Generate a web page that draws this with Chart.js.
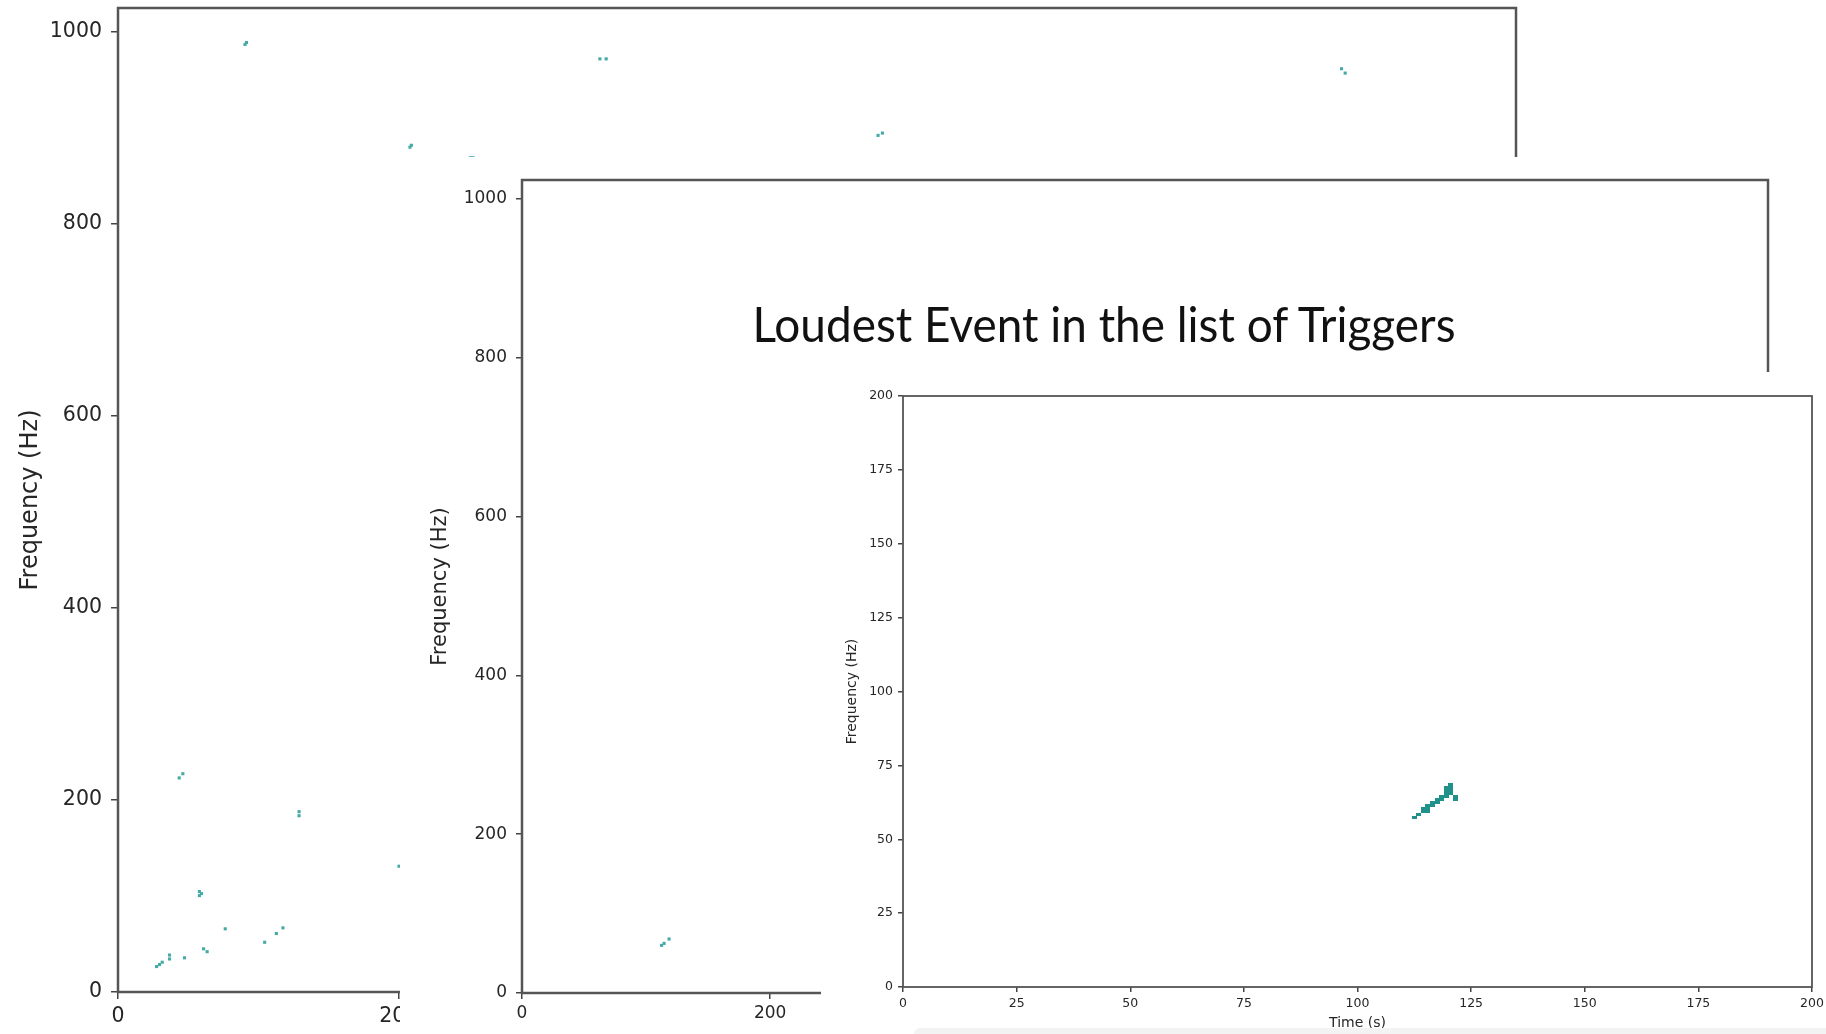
<!DOCTYPE html>
<html lang="en">
<head>
<meta charset="UTF-8">
<title>Loudest Event in the list of Triggers</title>
<script src="https://cdn.jsdelivr.net/npm/chart.js@4"></script>
<style>
  html, body { margin: 0; padding: 0; background: #fff; }
  body { width: 1826px; height: 1034px; position: relative; overflow: hidden; }
  .panel { position: absolute; background: #fff; }
  .panel canvas { display: block; }
  #title {
    position: absolute; left: 1104px; top: 323px;
    font-family: Lato, 'Liberation Sans', sans-serif; font-size: 48px; color: #111;
    white-space: nowrap; transform-origin: center center;
    transform: translate(-50%, -50%);
  }
  #strip {
    position: absolute; left: 914px; top: 1028px; width: 912px; height: 6px;
    background: #f3f3f3; border-top-left-radius: 8px;
  }
</style>
</head>
<body>
<div class="panel" style="left:0;top:0;width:1826px;height:1034px"><canvas id="c1" width="1826" height="1034"></canvas></div>
<div class="panel" style="left:400px;top:157px;width:1426px;height:877px"><canvas id="c2" width="1426" height="877"></canvas></div>
<div id="title">Loudest Event in the list of Triggers</div>
<div class="panel" style="left:821px;top:372px;width:1005px;height:662px"><canvas id="c3" width="1005" height="662"></canvas></div>
<div id="strip"></div>

<script>
// Panel 1 (back): trigger specks, time (s) vs frequency (Hz)
const p1Time = [90.5, 91.5, 208, 209, 251, 253, 343.3, 347.8, 541.5, 544.6, 871.7, 874.3,
                43.6, 46.2, 129, 129, 58, 59.5, 58, 76.4, 104.5, 112.8, 117.5,
                61, 63.5, 47.4, 36.7, 36.7, 27.5, 29.6, 31.5, 200.2];
const p1Freq = [987, 989, 880, 882, 869, 869, 972, 972, 892.3, 894.7, 961.7, 957.2,
                223, 227.4, 187.8, 183.6, 104.6, 102.5, 100.4, 65.8, 51.8, 60.9, 66.8,
                45, 42, 35.6, 38.5, 34.4, 26.5, 28.6, 31, 131];
const p1XTicks = [0, 200, 400, 600, 800];
const p1YTicks = [0, 200, 400, 600, 800, 1000];

// Panel 2 (middle)
const p2Time = [112.5, 114.5, 118.5];
const p2Freq = [60, 62.5, 68];
const p2XTicks = [0, 200, 400, 600, 800, 1000];
const p2YTicks = [0, 200, 400, 600, 800, 1000];

// Panel 3 (front): loudest event, spectrogram cells (1 s x 1 Hz)
const p3Time = [112, 113, 114, 114, 115, 115, 115, 116, 116, 117, 117, 118, 118,
                119, 119, 119, 119, 120, 120, 120, 120, 121, 121];
const p3Freq = [57, 58, 59, 60, 59, 60, 61, 61, 62, 62, 63, 63, 64,
                64, 65, 66, 67, 65, 66, 67, 68, 64, 63];
const p3XTicks = [0, 25, 50, 75, 100, 125, 150, 175, 200];
const p3YTicks = [0, 25, 50, 75, 100, 125, 150, 175, 200];

const TEAL = '#21918c';
const SPECK = '#45aaa5';
const FONT = "'DejaVu Sans', sans-serif";

const framePlugin = {
  id: 'frame',
  afterDraw(chart, args, opts) {
    const { ctx, chartArea: a } = chart;
    ctx.save();
    ctx.strokeStyle = opts.color;
    ctx.lineWidth = opts.width;
    ctx.strokeRect(a.left, a.top, a.right - a.left, a.bottom - a.top);
    ctx.restore();
  }
};

function makePanel(id, c) {
  const tickFont = { family: FONT, size: c.fontSize };
  const titleFont = { family: FONT, size: c.titleSize };
  return new Chart(document.getElementById(id), {
    type: 'scatter',
    data: { datasets: [{
      data: c.xs.map((x, i) => ({ x: x + c.shift, y: c.ys[i] + c.shift })),
      pointStyle: c.pointStyle, pointRadius: c.radius, pointHoverRadius: c.radius,
      backgroundColor: c.color, borderWidth: 0
    }]},
    options: {
      responsive: false, animation: false, events: [],
      layout: { padding: { left: 0, top: c.padTop, right: c.padRight, bottom: 0 } },
      plugins: { legend: { display: false }, tooltip: { enabled: false },
                 frame: { color: '#555', width: c.frameWidth } },
      scales: {
        x: {
          type: 'linear', min: 0, max: c.xMax,
          afterBuildTicks: s => { s.ticks = c.xTicks.map(v => ({ value: v })); },
          afterFit: s => { s.height = c.xAxisH; s.paddingLeft = 0; s.paddingRight = 0; },
          grid: { drawOnChartArea: false, drawTicks: true, tickLength: c.tickLen, color: '#444', lineWidth: 1.5 },
          border: { display: false },
          ticks: { font: tickFont, color: '#262626', padding: c.xPad, maxRotation: 0, autoSkip: false,
                   callback: v => String(v) },
          title: c.xTitle ? { display: true, text: c.xTitle, font: titleFont, color: '#262626',
                              padding: { top: 0, bottom: c.xTitlePad } } : { display: false }
        },
        y: {
          type: 'linear', min: 0, max: c.yMax,
          afterBuildTicks: s => { s.ticks = c.yTicks.map(v => ({ value: v })); },
          afterFit: s => { s.width = c.yAxisW; s.paddingTop = 0; s.paddingBottom = 0; },
          grid: { drawOnChartArea: false, drawTicks: true, tickLength: c.tickLen, color: '#444', lineWidth: 1.5 },
          border: { display: false },
          ticks: { font: tickFont, color: '#262626', padding: c.yPad, autoSkip: false,
                   callback: v => String(v) },
          title: { display: true, text: 'Frequency (Hz)', font: titleFont, color: '#262626',
                   padding: { top: c.yTitlePad, bottom: 0 } }
        }
      }
    },
    plugins: [framePlugin]
  });
}

makePanel('c1', {
  xs: p1Time, ys: p1Freq, shift: 0, xTicks: p1XTicks, yTicks: p1YTicks,
  xMax: 996, yMax: 1025, fontSize: 20.5, titleSize: 24, tickLen: 7, xPad: 5, yPad: 9,
  yAxisW: 118, xAxisH: 42, padTop: 8, padRight: 310, yTitlePad: 16,
  pointStyle: 'rect', radius: 2.2, color: SPECK, frameWidth: 2.5
});

makePanel('c2', {
  xs: p2Time, ys: p2Freq, shift: 0, xTicks: p2XTicks, yTicks: p2YTicks,
  xMax: 1004, yMax: 1024, fontSize: 17, titleSize: 21, tickLen: 6, xPad: 4, yPad: 9,
  yAxisW: 122, xAxisH: 41, padTop: 23, padRight: 58, yTitlePad: 27.5,
  pointStyle: 'rect', radius: 2.2, color: SPECK, frameWidth: 2.5
});

// one spectrogram cell is about 4.5 x 3 px at this scale
const cell = document.createElement('canvas');
cell.width = 5; cell.height = 3;
const g = cell.getContext('2d');
g.fillStyle = TEAL; g.fillRect(0, 0, 5, 3);

makePanel('c3', {
  xs: p3Time, ys: p3Freq, shift: 0.5, xTicks: p3XTicks, yTicks: p3YTicks,
  xMax: 200, yMax: 200, fontSize: 12.5, titleSize: 14, tickLen: 5, xPad: 4, yPad: 5,
  yAxisW: 82, xAxisH: 47, padTop: 24, padRight: 14, yTitlePad: 22.5,
  xTitle: 'Time (s)', xTitlePad: 2,
  pointStyle: cell, radius: 3, color: TEAL, frameWidth: 1.8
});

// fit the title to the width it has in the slide
function fitTitle() {
  const t = document.getElementById('title');
  t.style.transform = 'translate(-50%, -50%)';
  const w = t.offsetWidth;
  t.style.transform = 'translate(-50%, -50%) scaleX(' + (703 / w) + ')';
}
fitTitle();
if (document.fonts) document.fonts.ready.then(fitTitle);
</script>
</body>
</html>
